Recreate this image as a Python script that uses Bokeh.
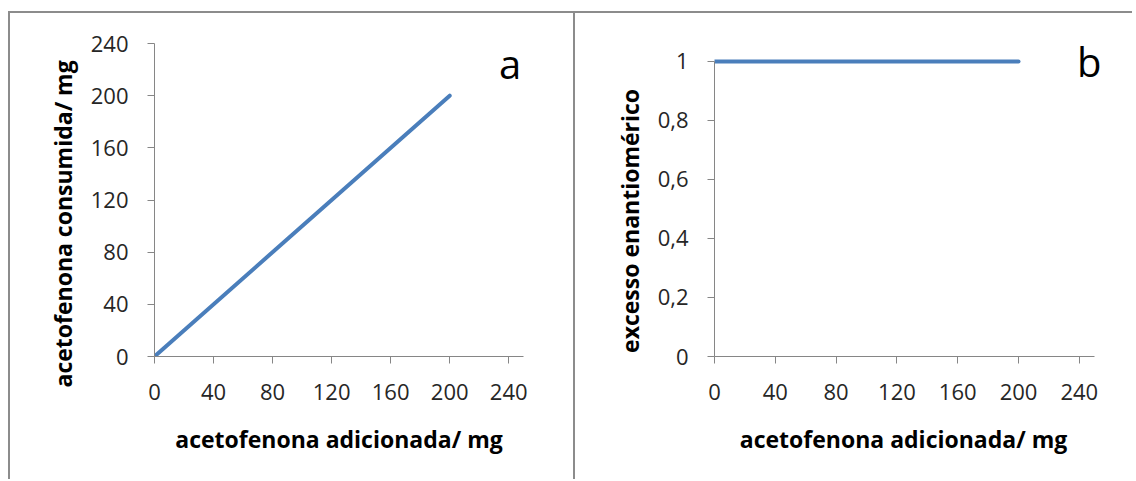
from bokeh.plotting import figure
from bokeh.layouts import row
from bokeh.models import Range1d, FixedTicker, Label
from bokeh.embed import file_html
from bokeh.resources import INLINE

# data
added_mg = [0, 200]
consumed_mg = [0, 200]
ee_added_mg = [0, 200]
ee_values = [1, 1]
x_ticks = [0, 40, 80, 120, 160, 200, 240]
y_ticks_a = [0, 40, 80, 120, 160, 200, 240]
y_ticks_b = [0, 0.2, 0.4, 0.6, 0.8, 1]
y_labels_b = ["0", "0,2", "0,4", "0,6", "0,8", "1"]

FONT = "Open Sans"
LINE = "#4a7ebb"
AX = "#868686"
FRAME = "2px solid #8c8c8c"
PAD = "\u00a0"


def style(p, xt, yt):
    for ax in (p.xaxis[0], p.yaxis[0]):
        ax.axis_line_color = AX
        ax.major_tick_line_color = AX
        ax.major_tick_out = 7
        ax.major_tick_in = 0
        ax.minor_tick_line_color = None
        ax.major_label_text_font = FONT
        ax.major_label_text_font_size = "22px"
        ax.major_label_text_color = "#262626"
        ax.axis_label_text_font = FONT
        ax.axis_label_text_font_style = "bold"
        ax.axis_label_text_font_size = "23px"
        ax.axis_label_text_color = "#000000"
    p.xaxis[0].ticker = FixedTicker(ticks=xt)
    p.yaxis[0].ticker = FixedTicker(ticks=yt)
    p.xaxis[0].major_label_standoff = 20
    p.yaxis[0].major_label_standoff = 19
    p.xaxis[0].axis_label_standoff = 20
    p.yaxis[0].axis_label_standoff = 9
    p.xgrid.grid_line_color = None
    p.ygrid.grid_line_color = None
    p.outline_line_color = None


pa = figure(width=567, height=468, output_backend="svg", toolbar_location=None,
            x_range=Range1d(0, 250), y_range=Range1d(0, 240),
            min_border_left=144, min_border_right=54, min_border_top=30, min_border_bottom=125,
            x_axis_label="acetofenona adicionada/ mg",
            y_axis_label="acetofenona consumida/ mg" + PAD * 8,
            styles={"margin-left": "8px", "margin-top": "11px", "border-top": FRAME,
                    "border-left": FRAME, "border-right": FRAME})
style(pa, x_ticks, y_ticks_a)
pa.line(added_mg, consumed_mg, line_color=LINE, line_width=4, line_cap="round")
pa.add_layout(Label(x=241, y=225, text="a", text_font=FONT, text_font_size="40px",
                    text_align="center", text_baseline="middle", text_color="#000000"))

pb = figure(width=557, height=468, output_backend="svg", toolbar_location=None,
            x_range=Range1d(0, 260.5), y_range=Range1d(0, 1.061),
            min_border_left=139, min_border_right=22, min_border_top=30, min_border_bottom=125,
            x_axis_label="acetofenona adicionada/ mg" + PAD * 3,
            y_axis_label="excesso enantiomérico" + PAD * 7,
            styles={"margin-top": "11px", "border-top": FRAME})
style(pb, x_ticks, y_ticks_b)
pb.xaxis[0].bounds = (0, 250)
pb.yaxis[0].bounds = (0, 1)
pb.yaxis[0].major_label_overrides = {t: l for t, l in zip(y_ticks_b, y_labels_b)}
pb.line(ee_added_mg, ee_values, line_color=LINE, line_width=4, line_cap="round")
pb.add_layout(Label(x=246.5, y=1.0, text="b", text_font=FONT, text_font_size="40px",
                    text_align="center", text_baseline="middle", text_color="#000000"))

layout = row(pa, pb, spacing=0)
open("out.html", "w").write(file_html(layout, INLINE))
